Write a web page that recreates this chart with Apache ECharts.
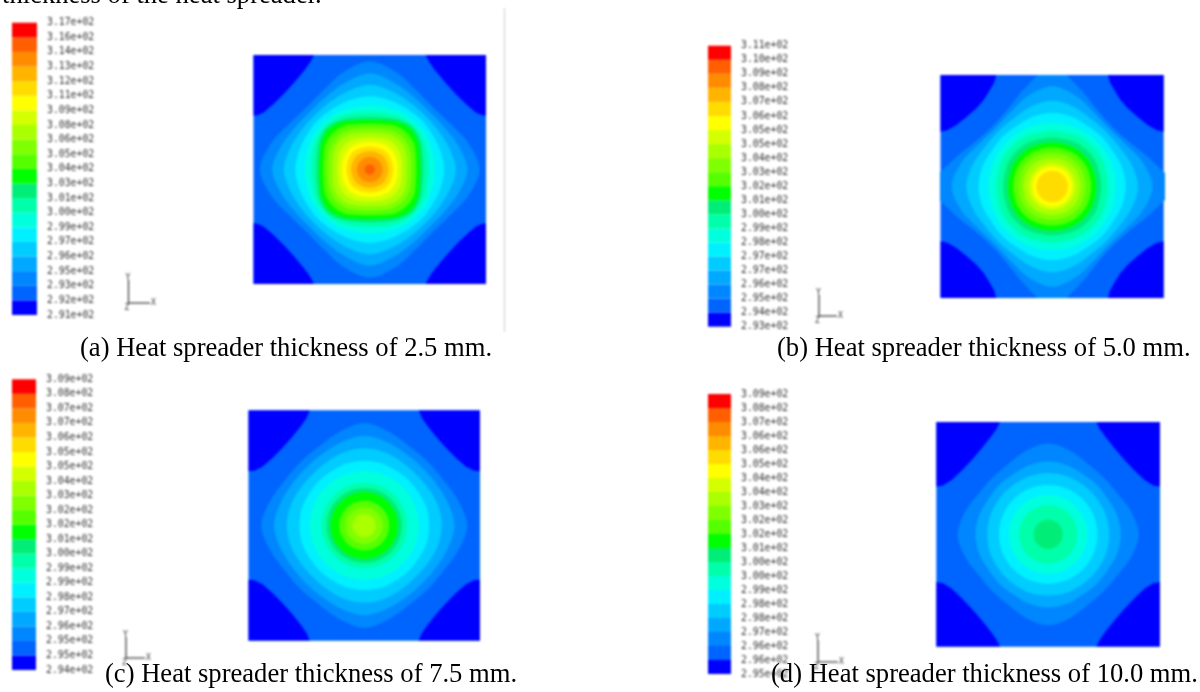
<!DOCTYPE html>
<html><head><meta charset="utf-8">
<style>html,body{margin:0;padding:0;background:#fff}
#c,#t{position:absolute;left:0;top:0;width:1200px;height:692px}
#c{filter:blur(0.9px)}</style>
<script src="https://cdn.jsdelivr.net/npm/echarts@6/dist/echarts.min.js"></script>
</head><body><div id="c"></div><div id="t"></div>
<script>
// Contour band colours, lowest band first
const bandColors = ['#0000ff','#0064ff','#0086ff','#00a8ff','#00ccff','#00f0ff','#00ffdd','#00ffaa','#00ee77','#00ff00',
  '#55ff00','#80ff00','#aaff00','#d4ff00','#ffff00','#ffdc00','#ffb400','#ff8c00','#ff5f00','#ff0000'];

// Colour-bar tick labels, top to bottom
const ticksA = ['3.17','3.16','3.14','3.13','3.12','3.11','3.09','3.08','3.06','3.05','3.04','3.03','3.01','3.00','2.99','2.97','2.96','2.95','2.93','2.92','2.91'];
const ticksB = ['3.11','3.10','3.09','3.08','3.07','3.06','3.05','3.05','3.04','3.03','3.02','3.01','3.00','2.99','2.98','2.97','2.97','2.96','2.95','2.94','2.93'];
const ticksC = ['3.09','3.08','3.07','3.07','3.06','3.05','3.05','3.04','3.03','3.02','3.02','3.01','3.00','2.99','2.99','2.98','2.97','2.96','2.95','2.95','2.94'];
const ticksD = ['3.09','3.08','3.07','3.06','3.06','3.05','3.04','3.04','3.03','3.02','3.02','3.01','3.00','3.00','2.99','2.98','2.98','2.97','2.96','2.96','2.95'];

// Contours: [band, radius at 0, 15, 30, 45 deg from the axis], half-width of the plate = 100
const ringsA = [[2,94.5,88,80,77],[3,84,79,74,72],[4,74,71,68,67],[5,64,63,62,62],[6,56,56,57,57],[7,50,51,53,54],[8,46,47,50,52],
  [9,43.5,44.5,48,50],[10,40,41,44,45],[11,36,37,39,40],[12,32,33,35,36],[13,28,28.5,30,30.5],[14,24,24.5,25,25.5],[15,20,20,20.5,21],[16,16,16,16,16.5],[17,11,11,11,11],[18,4.5,4.5,4.5,4.5]];
const ringsB = [[2,108,92,80,76],[3,90,84,76,73],[4,77,74,70,69],[5,66,65,63,63],[6,57,57,57,57],[7,50,50,51,51],[8,44,44,45,45],
  [9,39.5,39.5,40,40],[10,35,35,35.5,35.5],[11,30,30,30.5,30.5],[12,25.5,25.5,26,26],[13,21,21,21,21],[14,18,18,18,18],[15,14,14,14,14]];
const ringsC = [[2,89,84,79,78],[3,78,75,72,71],[4,67,66,64,63],[5,56,56,55,55],[6,47,47,47,47],[7,37,37,37,37],[8,32.5,32.5,32.5,32.5],
  [9,29,29,29,29],[10,21.5,21.5,21.5,21.5],[11,16,16,16,16],[12,10,10,10,10]];
const ringsD = [[2,81,77,72,71],[3,65,64,62,62],[4,54.5,54.5,54,54],[5,44,44,44,44],[6,35,35,35,35],[7,26,26,26,26],[8,13,13,13,13]];

// Cold corner outline (upper-left corner), plate half-width = 100
const cornerA = [[-100,100],[-48,100],[-51,94],[-56,87],[-65,76],[-74,66],[-83,57],[-91,50],[-96,47.5],[-100,47]];
const cornerB = [[-100,100],[-50,100],[-52,93],[-56,86],[-61,78],[-68,70],[-77,62],[-86,55],[-94,50.5],[-100,49]];
const cornerC = [[-100,100],[-47,100],[-50,93],[-55,86],[-63,76],[-71,67],[-80,58],[-88,51],[-95,47.5],[-100,47]];
const cornerD = [[-100,100],[-43,100],[-46,94],[-51,87],[-59,77],[-68.5,66],[-77,57],[-86,48.5],[-94,43.5],[-100,42.5]];

const cornerSigns = [[1,1],[-1,1],[1,-1],[-1,-1]];
const ringAngles = [0,15,30,45];
const exponent = 'e+02';

const captions = ['(a) Heat spreader thickness of 2.5 mm.','(b) Heat spreader thickness of 5.0 mm.','(c) Heat spreader thickness of 7.5 mm.','(d) Heat spreader thickness of 10.0 mm.'];
const headLine = 'thickness of the heat spreader.';

const panels = [
 {ticks:ticksA,rings:ringsA,corner:cornerA,plate:[253.5,55,232.5,229],bar:[12,22.7,25,292.3],cap:[80,351],triad:[128.5,303,280,150]},
 {ticks:ticksB,rings:ringsB,corner:cornerB,plate:[940.5,75,223.2,223],bar:[708,45.7,23,281],cap:[777,351],triad:[819,316,295,837]},
 {ticks:ticksC,rings:ringsC,corner:cornerC,plate:[248.5,410.3,231.5,230.4],bar:[12,379.3,24,290.7],cap:[105,677],triad:[126,658,637,145]},
 {ticks:ticksD,rings:ringsD,corner:cornerD,plate:[936.3,422,223.7,224.7],bar:[708,394,23,280],cap:[771,677],triad:[818,662,640,838]}
];

// Closed spline through the outline points, used only to round the drawn contour
function rounded(pts){
  const n=pts.length,out=[];
  for(let i=0;i<n;i++){
    const a=pts[(i+n-1)%n],b=pts[i],c=pts[(i+1)%n],d=pts[(i+2)%n];
    for(let s=0;s<6;s++){
      const u=s/6,u2=u*u,u3=u2*u;
      out.push([0,1].map(k=>0.5*(2*b[k]+(c[k]-a[k])*u+(2*a[k]-5*b[k]+4*c[k]-d[k])*u2+(3*b[k]-a[k]-3*c[k]+d[k])*u3)));
    }
  }
  return out;
}

const grids=[],xAxes=[],yAxes=[],series=[],graphics=[],texts=[];

panels.forEach((p,i)=>{
  const gPlate=grids.length;
  grids.push({left:p.plate[0],top:p.plate[1],width:p.plate[2],height:p.plate[3]});
  xAxes.push({type:'value',gridIndex:gPlate,min:-100,max:100,show:false});
  yAxes.push({type:'value',gridIndex:gPlate,min:-100,max:100,show:false});
  series.push({type:'custom',xAxisIndex:gPlate,yAxisIndex:gPlate,clip:false,silent:true,data:[[-100,100,100,-100]],
    renderItem:(ctx,api)=>{
      const a=api.coord([api.value(0),api.value(1)]),b=api.coord([api.value(2),api.value(3)]);
      return {type:'rect',shape:{x:a[0],y:a[1],width:b[0]-a[0],height:b[1]-a[1]},style:{fill:bandColors[1]}};
    }});
  series.push({type:'custom',xAxisIndex:gPlate,yAxisIndex:gPlate,clip:true,silent:true,data:p.rings,
    renderItem:(ctx,api)=>{
      const r=[1,2,3,4].map(k=>api.value(k)),pts=[];
      for(let q=0;q<4;q++){
        [0,1,2,3,2,1].forEach((k,j)=>{
          const deg=q*90+(j<=3?ringAngles[k]:90-ringAngles[k]);
          const t=deg*Math.PI/180;
          pts.push(api.coord([r[k]*Math.sin(t),r[k]*Math.cos(t)]));
        });
      }
      return {type:'polygon',shape:{points:rounded(pts)},style:{fill:bandColors[api.value(0)]}};
    }});
  series.push({type:'custom',xAxisIndex:gPlate,yAxisIndex:gPlate,clip:true,silent:true,data:cornerSigns,
    renderItem:(ctx,api)=>{
      const sx=api.value(0),sy=api.value(1);
      return {type:'polygon',shape:{points:p.corner.map(c=>api.coord([c[0]*sx,c[1]*sy]))},style:{fill:bandColors[0]}};
    }});

  const gBar=grids.length;
  grids.push({left:p.bar[0],top:p.bar[1],width:p.bar[2],height:p.bar[3]});
  xAxes.push({type:'value',gridIndex:gBar,min:0,max:1,show:false});
  yAxes.push({type:'value',gridIndex:gBar,min:0,max:20,interval:1,position:'right',
    axisLine:{show:false},axisTick:{show:false},splitLine:{show:false},
    axisLabel:{show:true,showMinLabel:true,showMaxLabel:true,hideOverlap:false,margin:10,padding:[0,0,8,0],
      fontFamily:'DejaVu Sans Mono',fontSize:9.8,color:'#333',
      formatter:v=>p.ticks[20-v]+exponent}});
  series.push({type:'custom',xAxisIndex:gBar,yAxisIndex:gBar,silent:true,data:bandColors.map((c,k)=>[0,k,1,k+1]),
    renderItem:(ctx,api)=>{
      const a=api.coord([api.value(0),api.value(3)]),b=api.coord([api.value(2),api.value(1)]);
      return {type:'rect',shape:{x:a[0],y:a[1],width:b[0]-a[0],height:b[1]-a[1]},style:{fill:bandColors[api.value(1)]}};
    }});

  texts.push({type:'text',left:p.cap[0],top:p.cap[1]-15,style:{text:captions[i],font:'26.6px "Liberation Serif"',fill:'#000'},silent:true});
  const t=p.triad;
  graphics.push({type:'line',shape:{x1:t[0],y1:t[1],x2:t[0],y2:t[2]},style:{stroke:'#333',lineWidth:1.2}});
  graphics.push({type:'line',shape:{x1:t[0],y1:t[1],x2:t[3],y2:t[1]},style:{stroke:'#333',lineWidth:1.2}});
  [['Y',t[0]-3,t[2]-6],['X',t[3]+1,t[1]-4],['Z',t[0]-4,t[1]+1]].forEach(l=>{
    graphics.push({type:'text',x:l[1],y:l[2],style:{text:l[0],font:'8px "DejaVu Sans Mono"',fill:'#333'}});
  });
});
texts.push({type:'text',left:2,top:-17,style:{text:headLine,font:'26.6px "Liberation Serif"',fill:'#000'},silent:true});
graphics.push({type:'line',shape:{x1:504.5,y1:8,x2:504.5,y2:332},style:{stroke:'#ccc',lineWidth:1}});

echarts.init(document.getElementById('c')).setOption({
  animation:false,backgroundColor:'#fff',grid:grids,xAxis:xAxes,yAxis:yAxes,series:series,graphic:graphics
});
echarts.init(document.getElementById('t')).setOption({animation:false,graphic:texts});
</script></body></html>
